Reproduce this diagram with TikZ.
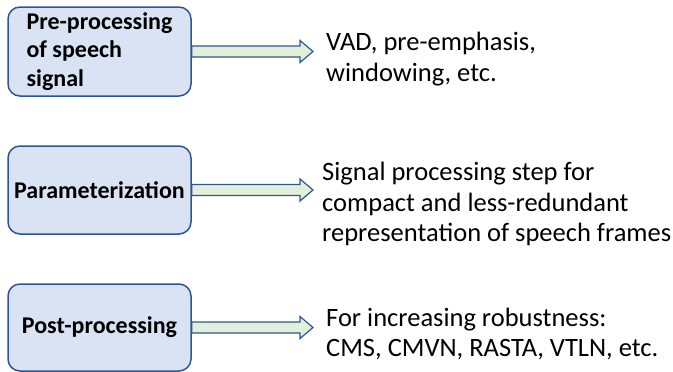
\documentclass[tikz,border=0pt]{standalone}
\usepackage{fontspec}
\setmainfont{Carlito}
\usepackage{tikz}
\usetikzlibrary{calc,positioning}
\definecolor{boxfill}{HTML}{DAE3F3}
\definecolor{boxline}{HTML}{2F5597}
\definecolor{arrfill}{HTML}{E2F0D9}
\tikzset{%
        x=1pt,
        y=-1pt,
        fatarrow/.style={
            draw=boxline, fill=arrfill, line width=1.2pt, line join=miter,
            to path={let \p1=(\tikztostart), \p2=(\tikztotarget) in
                (\x1,\y1+5.5pt) -- (\x2-13pt,\y1+5.5pt) -- (\x2-13pt,\y1+11pt)
                -- (\x2,\y1) -- (\x2-13pt,\y1-11pt) -- (\x2-13pt,\y1-5.5pt)
                -- (\x1,\y1-5.5pt) -- cycle}
        }
}
\tikzstyle{stage}=[
    draw = boxline,
    fill = boxfill,
    line width = 1.5pt,
    rounded corners = 12pt,
    minimum width = 183pt,
    align = left,
    font = \fontsize{24}{28.5}\selectfont\bfseries
]
\tikzstyle{desc}=[
    anchor = west,
    inner sep = 0pt,
    align = left,
    font = \fontsize{26.5}{30.5}\selectfont
]

\begin{document}
\begin{tikzpicture}
        \useasboundingbox (0,0) rectangle (673,372);
        \node[stage, minimum height=89pt] (1) at (99.5,51.5) {Pre-processing\\of speech\\signal};
        \node[stage, minimum height=88pt] (2) at (99.5,190) {Parameterization};
        \node[stage, minimum height=87pt] (3) at (99.5,327.5) {Post-processing};
        \node[desc] (d1) at (326,59) {VAD, pre-emphasis,\\windowing, etc.};
        \node[desc] (d2) at (322,204) {Signal processing step for\\compact and less-redundant\\representation of speech frames};
        \node[desc] (d3) at (326,334) {For increasing robustness:\\CMS, CMVN, RASTA, VTLN, etc.};
      \path
      (1.east) edge[fatarrow] ([xshift=-13pt]d1.west)
      (2.east) edge[fatarrow] ([xshift=-9pt]d2.west)
      (3.east) edge[fatarrow] ([xshift=-13pt]d3.west)
      ;
    \end{tikzpicture}
\end{document}
